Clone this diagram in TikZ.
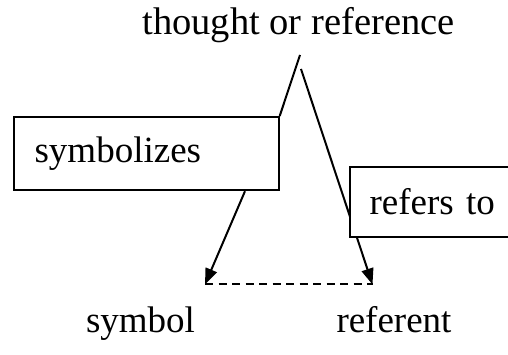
\documentclass[tikz,border=0pt]{standalone}
\usepackage{fontspec}
\setmainfont{Liberation Serif}
\usetikzlibrary{arrows.meta}

\tikzset{
  lbl/.style={inner sep=0pt, anchor=base, font=\fontsize{37pt}{44pt}\selectfont},
  labelbox/.style={draw, line width=2.2pt, fill=white, anchor=north west,
    align=left, inner ysep=0pt, font=\fontsize{37pt}{44pt}\selectfont},
  conn/.style={line width=2pt},
  arr/.style={conn, -{Triangle[length=16pt,width=12pt]}},
  link/.style={line width=2pt, dash pattern=on 8pt off 5.5pt},
}

\begin{document}
\begin{tikzpicture}[x=1pt, y=1pt]
  \useasboundingbox (0,0) rectangle (508,355);
  \clip (0,0) rectangle (508,355);

  % top label
  \node[lbl, font=\fontsize{38.5pt}{46pt}\selectfont] (thought) at (298.5,320) {thought or reference};

  % corner points of the triangle
  \coordinate (apex) at (300,300);
  \coordinate (rtop) at (301,286);
  \coordinate (symtip) at (205,70.5);
  \coordinate (reftip) at (372.5,70.5);

  % right side runs behind the "refers to" box
  \draw[arr] (rtop) -- (reftip);

  % boxes
  \node[labelbox, inner xsep=21pt, text width=223pt, minimum height=73pt] (symb) at (12.5,239) {symbolizes};
  \node[labelbox, inner xsep=20pt, text width=160pt, minimum height=70pt] (refs) at (348.5,189) {refers to};

  % left side
  \draw[conn] (symb.north east) -- (apex);
  \draw[arr] ([xshift=232.5pt]symb.south west) -- (symtip);

  % base of the triangle
  \draw[link] (symtip) -- (reftip);

  % bottom labels
  \node[lbl] (symbol) at (140.5,22) {symbol};
  \node[lbl] (referent) at (394,22) {referent};
\end{tikzpicture}
\end{document}
